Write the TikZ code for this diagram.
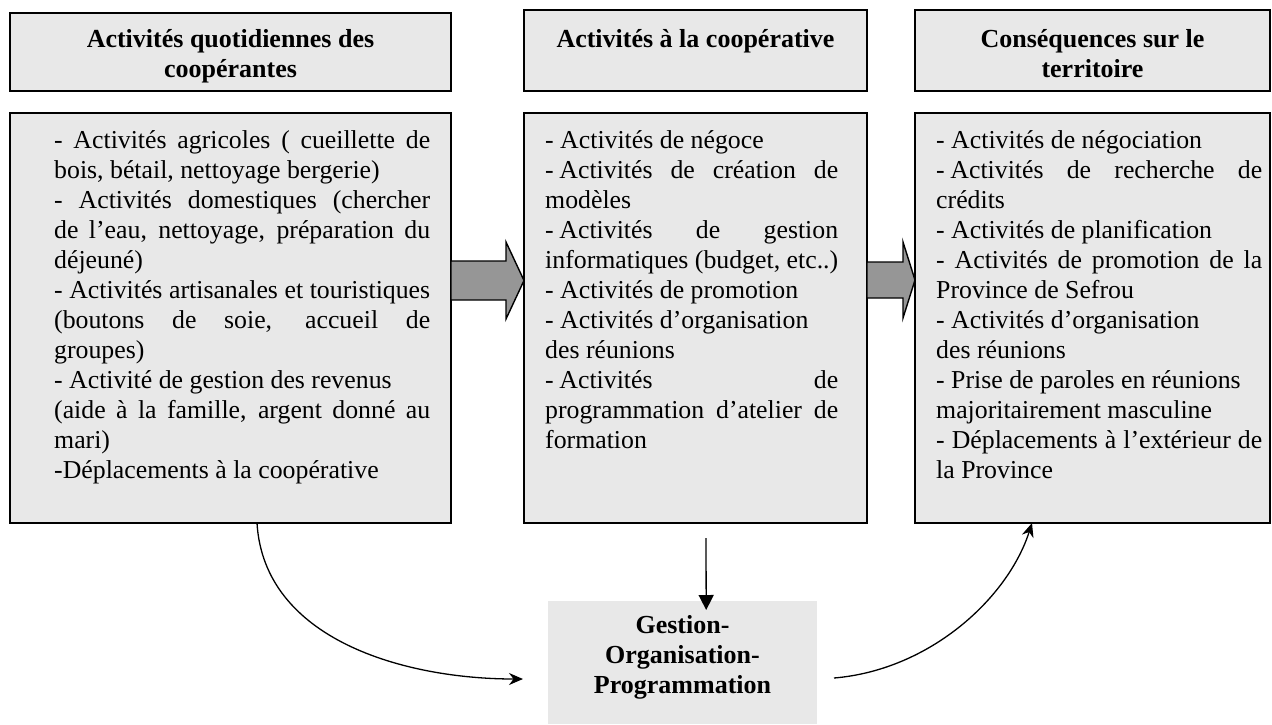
\documentclass[tikz,border=0pt]{standalone}
\usepackage{fontspec}
\setmainfont{Liberation Serif}
\usetikzlibrary{arrows.meta,calc}
\definecolor{boxgray}{RGB}{232,232,232}
\definecolor{arrowgray}{RGB}{150,150,150}
\newcommand\jline[1]{{\spaceskip=\fontdimen2\font plus 1fil\makebox[\linewidth][s]{#1}}}
\newcommand\dsh{-\hspace{0.22em}}
\begin{document}
\begin{tikzpicture}[x=1pt,y=-1pt,
  frame/.style={draw=black, line width=1.6pt, fill=boxgray, inner sep=0pt, outer sep=0pt, anchor=north west},
  body/.style={inner sep=0pt, anchor=base west, align=flush left, font=\fontsize{25.8}{30}\selectfont},
  head/.style={inner sep=0pt, anchor=base, align=flush center, font=\bfseries\fontsize{26}{30}\selectfont},
  blockarrow/.style={draw=black, line width=1.4pt, fill=arrowgray, line join=miter},
  conn/.style={line width=1.3pt, -{Stealth[length=14pt,width=12pt]}}]
\useasboundingbox (0,0) rectangle (1272,724);

% header boxes
\node[frame, minimum width=441pt, minimum height=78pt] (h1) at (10,13) {};
\node[frame, minimum width=343pt, minimum height=81pt] (h2) at (524,10) {};
\node[frame, minimum width=355pt, minimum height=81pt] (h3) at (915,10) {};
\node[head, text width=420pt] (ht1) at (230.5,47) {Activités quotidiennes des\\coopérantes};
\node[head, text width=330pt] (ht2) at (695.5,47) {Activités à la coopérative};
\node[head, text width=340pt] (ht3) at (1092.5,47) {Conséquences sur le\\territoire};

% body boxes
\node[frame, minimum width=441pt, minimum height=410pt] (b1) at (10,113) {};
\node[frame, minimum width=343pt, minimum height=410pt] (b2) at (524,113) {};
\node[frame, minimum width=355pt, minimum height=410pt] (b3) at (915,113) {};

\node[body, text width=376pt] (t1) at (54,148) {%
\jline{- Activités agricoles ( cueillette de}\\
bois, bétail, nettoyage bergerie)\\
\jline{- Activités domestiques (chercher}\\
\jline{de l’eau, nettoyage, préparation du}\\
déjeuné)\\
\jline{- Activités artisanales et touristiques}\\
\jline{(boutons de soie, accueil de}\\
groupes)\\
- Activité de gestion des revenus\\
\jline{(aide à la famille, argent donné au}\\
mari)\\
-Déplacements à la coopérative};

\node[body, text width=293pt] (t2) at (545,148) {%
- Activités de négoce\\
\jline{\dsh Activités de création de}\\
modèles\\
\jline{\dsh Activités de gestion}\\
informatiques (budget, etc..)\\
- Activités de promotion\\
- Activités d’organisation\\
des réunions\\
\jline{\dsh Activités de}\\
\jline{programmation d’atelier de}\\
formation};

\node[body, text width=326pt] (t3) at (936,148) {%
- Activités de négociation\\
\jline{\dsh Activités de recherche de}\\
crédits\\
- Activités de planification\\
\jline{- Activités de promotion de la}\\
Province de Sefrou\\
- Activités d’organisation\\
des réunions\\
- Prise de paroles en réunions\\
majoritairement masculine\\
\jline{- Déplacements à l’extérieur de}\\
la Province};

% bottom box
\node[fill=boxgray, inner sep=0pt, minimum width=269pt, minimum height=123pt, anchor=north west] (g) at (548,601) {};
\node[head, text width=260pt] (gt) at (682.5,633) {Gestion-\\Organisation-\\Programmation};

% block arrows
\draw[blockarrow] (451,261) -- (506,261) -- (506,242) -- (524,280.5) -- (506,319) -- (506,300) -- (451,300) -- cycle;
\draw[blockarrow] (867,262) -- (903,262) -- (903,242) -- (915,280) -- (903,318) -- (903,298) -- (867,298) -- cycle;

% connectors
\coordinate (s1) at ($(b1.south west)+(247,0)$);
\coordinate (e1) at (523,679);
\coordinate (s2) at (834,678);
\coordinate (e2) at ($(b3.south west)+(117,0)$);
\coordinate (s3) at ($(b2.south)+(10.5,15)$);
\coordinate (e3) at ($(g.north)+(23.5,9)$);
\draw[conn] (s1) .. controls (264,640) and (405,679) .. (e1);
\draw[conn] (s2) .. controls (930,670) and (1008,598) .. (e2);
\draw[line width=1.3pt, -{Triangle[length=15pt,width=15pt]}] (s3) -- (e3);
\end{tikzpicture}
\end{document}
